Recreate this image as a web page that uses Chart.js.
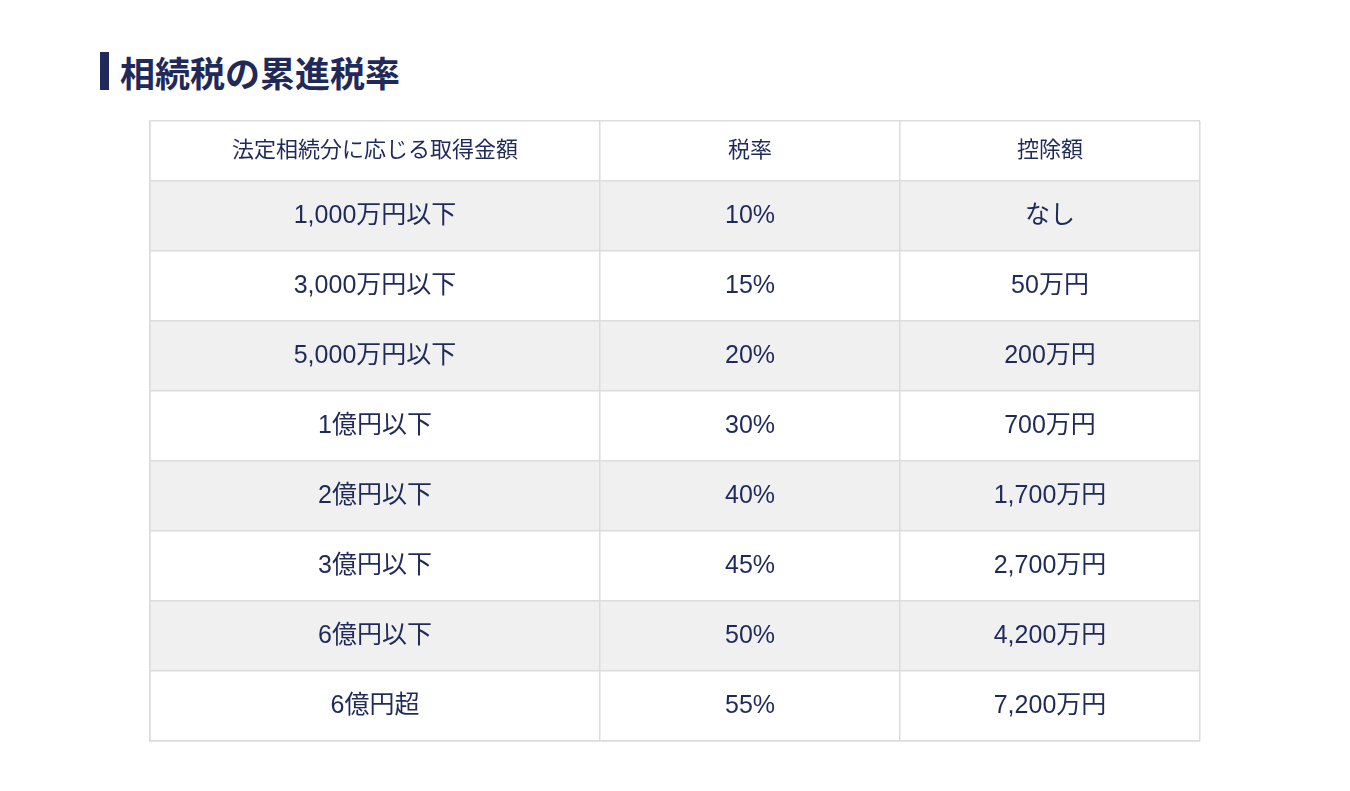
<!DOCTYPE html>
<html><head><meta charset="utf-8">
<script src="https://cdn.jsdelivr.net/npm/chart.js@4"></script>
<style>
body{margin:0;background:#fff;width:1350px;height:791px;overflow:hidden;position:relative;font-family:"Noto Sans CJK JP",sans-serif}
#ttl{position:absolute;left:100px;top:48px;height:46px;display:flex;align-items:center;font-size:35px;font-weight:bold;color:#1f2a5a}
#ttl:before{content:"";display:inline-block;width:9px;height:38px;background:#1f2a5a;margin-right:11px}
canvas{position:absolute;left:0;top:0}
</style></head><body>
<div id="ttl">相続税の累進税率</div>
<canvas id="c" width="1350" height="791"></canvas>
<script>
// 表の中身
const headers = ["法定相続分に応じる取得金額", "税率", "控除額"];
const amounts = ["1,000万円以下", "3,000万円以下", "5,000万円以下", "1億円以下", "2億円以下", "3億円以下", "6億円以下", "6億円超"];
const rates = ["10%", "15%", "20%", "30%", "40%", "45%", "50%", "55%"];
const deductions = ["なし", "50万円", "200万円", "700万円", "1,700万円", "2,700万円", "4,200万円", "7,200万円"];

// 列・行の境界（スケール単位）
const colEdges = [0, 450, 750, 1050];
const rowEdges = [0, 60, 130, 200, 270, 340, 410, 480, 550, 620];

const TEXT = "#1f2a5a";
const FONT = '"Liberation Sans", "Noto Sans CJK JP", sans-serif';

const tablePlugin = {
  id: "table",
  beforeDraw(chart) {
    const { ctx, scales: { x, y } } = chart;
    ctx.save();
    ctx.fillStyle = "#f0f0f0";
    for (let r = 1; r < rowEdges.length - 1; r += 2) {
      const top = y.getPixelForValue(rowEdges[r]);
      const bot = y.getPixelForValue(rowEdges[r + 1]);
      const l = x.getPixelForValue(colEdges[0]);
      ctx.fillRect(l, top, x.getPixelForValue(colEdges[3]) - l, bot - top);
    }
    ctx.restore();
  },
  afterDraw(chart) {
    const { ctx, scales: { x, y } } = chart;
    ctx.save();
    ctx.fillStyle = TEXT;
    ctx.textAlign = "center";
    ctx.textBaseline = "middle";
    const rows = [headers].concat(amounts.map((a, i) => [a, rates[i], deductions[i]]));
    rows.forEach((row, r) => {
      const cy = y.getPixelForValue((rowEdges[r] + rowEdges[r + 1]) / 2);
      ctx.font = (r === 0 ? "22px " : "25px ") + FONT;
      row.forEach((t, c) => {
        const cx = x.getPixelForValue((colEdges[c] + colEdges[c + 1]) / 2);
        ctx.fillText(t, cx, cy);
      });
    });
    ctx.restore();
  }
};

const grid = { color: "#dcdcdc", lineWidth: 1.5, drawTicks: false, offset: false };

new Chart(document.getElementById("c"), {
  type: "bar",
  data: { labels: [], datasets: [{ data: [] }] },
  plugins: [tablePlugin],
  options: {
    responsive: false,
    animation: false,
    layout: { padding: { left: 150, right: 150, top: 121, bottom: 50 } },
    plugins: { legend: { display: false }, tooltip: { enabled: false } },
    scales: {
      x: {
        type: "linear", min: 0, max: 1050, offset: false,
        grid, border: { display: true, color: "#dcdcdc", width: 1.5 },
        ticks: { display: false },
        afterBuildTicks: (s) => { s.ticks = colEdges.map((v) => ({ value: v })); }
      },
      y: {
        type: "linear", min: 0, max: 620, reverse: true, offset: false,
        grid, border: { display: true, color: "#dcdcdc", width: 1.5 },
        ticks: { display: false },
        afterBuildTicks: (s) => { s.ticks = rowEdges.map((v) => ({ value: v })); }
      }
    }
  }
});
</script>
</body></html>
